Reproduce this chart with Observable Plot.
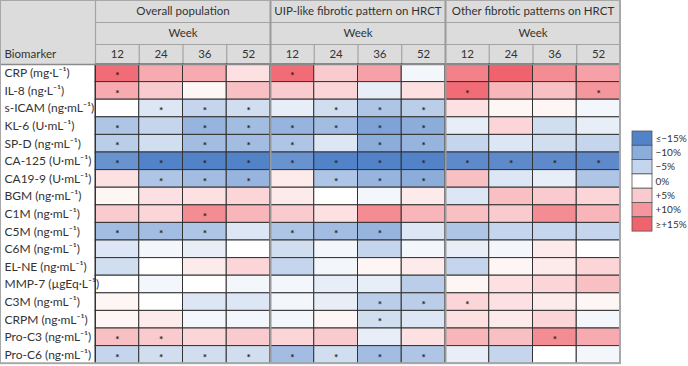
<!DOCTYPE html>
<html>
<head>
<meta charset="utf-8">
<script src="https://cdn.jsdelivr.net/npm/d3@7"></script>
<script src="https://cdn.jsdelivr.net/npm/@observablehq/plot@0.6"></script>
<style>
  html, body { margin: 0; padding: 0; background: #fff; }
  #chart svg { display: block; }
</style>
</head>
<body>
<div id="chart"></div>
<script>
// Percentage change from baseline per biomarker, by subgroup and week
const biomarkers = [
  "CRP (mg·L⁻¹)", "IL-8 (ng·L⁻¹)", "s-ICAM (ng·mL⁻¹)", "KL-6 (U·mL⁻¹)",
  "SP-D (ng·mL⁻¹)", "CA-125 (U·mL⁻¹)", "CA19-9 (U·mL⁻¹)", "BGM (ng·mL⁻¹)",
  "C1M (ng·mL⁻¹)", "C5M (ng·mL⁻¹)", "C6M (ng·mL⁻¹)", "EL-NE (ng·mL⁻¹)",
  "MMP-7 (µgEq·L⁻¹)", "C3M (ng·mL⁻¹)", "CRPM (ng·mL⁻¹)", "Pro-C3 (ng·mL⁻¹)",
  "Pro-C6 (ng·mL⁻¹)"
];
const groups = ["Overall population", "UIP-like fibrotic pattern on HRCT", "Other fibrotic patterns on HRCT"];
const weeks = [12, 24, 36, 52];

const overallChange = [
  [14, 8, 8, 3], [8, 5, 1, 6], [0, -3, -5, -4], [-7, -5, -9, -8],
  [-6, -4, -8, -8], [-13, -15, -15, -15], [3, -7, -8, -9], [1, 3, 3, 4],
  [5, 4, 11, 7], [-8, -8, -7, -3], [-3, -1, -2, 0], [-4, 0, 2, 4],
  [0, -1, 0, -1], [1, 0, -3, -3], [1, 2, -1, -1], [6, 5, 4, 5],
  [-5, -4, -4, -4]
];
const uipChange = [
  [14, 5, 9, -1], [5, 4, -2, 3], [-2, -4, -7, -6], [-9, -8, -11, -10],
  [-7, -3, -10, -9], [-13, -15, -15, -15], [2, -7, -9, -10], [2, 0, -1, 2],
  [5, 3, 11, 7], [-7, -8, -9, -3], [-4, -1, -5, -1], [-5, -1, 1, 2],
  [-1, -2, -2, -6], [-1, -2, -6, -6], [-1, 1, -4, -3], [4, 5, -2, 3],
  [-8, -4, -8, -7]
];
const otherChange = [
  [12, 15, 11, 9], [14, 7, 6, 10], [3, 1, 1, -1], [-2, 4, -4, -2],
  [-5, -3, -4, -5], [-14, -14, -14, -14], [6, -3, -2, -7], [-3, 6, 5, 4],
  [6, 5, 11, 7], [-7, -5, -5, -5], [-2, -1, 2, 0], [-5, 1, 2, 4],
  [1, 3, 4, 6], [4, 3, 2, 1], [3, 2, 4, -1], [7, 6, 11, 8],
  [-2, -5, 0, -1]
];

// 1 = statistically significant change (marked with an asterisk)
const overallSig = [
  [1,0,0,0], [1,0,0,0], [0,1,1,1], [1,0,1,1], [1,0,1,1], [1,1,1,1], [0,1,1,1], [0,0,0,0],
  [0,0,1,0], [1,1,1,0], [0,0,0,0], [0,0,0,0], [0,0,0,0], [0,0,0,0], [0,0,0,0], [1,1,0,0],
  [1,1,1,1]
];
const uipSig = [
  [1,0,0,0], [0,0,0,0], [0,1,1,1], [1,1,1,1], [1,0,1,1], [1,1,1,1], [0,1,1,1], [0,0,0,0],
  [0,0,0,0], [1,1,1,0], [0,0,0,0], [0,0,0,0], [0,0,0,0], [0,0,1,1], [0,0,1,0], [0,0,0,0],
  [1,1,1,1]
];
const otherSig = [
  [0,0,0,0], [1,0,0,1], [0,0,0,0], [0,0,0,0], [0,0,0,0], [1,1,1,1], [0,0,0,0], [0,0,0,0],
  [0,0,0,0], [0,0,0,0], [0,0,0,0], [0,0,0,0], [0,0,0,0], [1,0,0,0], [0,0,0,0], [0,0,1,0],
  [0,0,0,0]
];

const legendValues = [-15, -10, -5, 0, 5, 10, 15];
const legendLabels = ["≤−15%", "−10%", "−5%", "0%", "+5%", "+10%", "≥+15%"];

// ---- layout (x in column units, y in row units, y grows downward) ----
const W = 688, H = 366;
const colPx = 43.75, rowPx = 17.6;
const labelCol = 95 / colPx;                  // width of biomarker column
const headRows = [22 / rowPx, 22 / rowPx, 20 / rowPx];
const yTop = -(headRows[0] + headRows[1] + headRows[2]);
const yWeekTop = yTop + headRows[0];
const yNumTop = yWeekTop + headRows[1];
const nRows = biomarkers.length, nCols = groups.length * weeks.length;

const changes = [overallChange, uipChange, otherChange];
const sigs = [overallSig, uipSig, otherSig];
const cells = [];
groups.forEach((g, gi) => biomarkers.forEach((b, ri) => weeks.forEach((w, wi) => {
  const c = gi * weeks.length + wi;
  cells.push({group: g, biomarker: b, week: w, row: ri, col: c,
              value: changes[gi][ri][wi], sig: sigs[gi][ri][wi] === 1});
})));

const groupCells = groups.map((g, gi) => ({label: g, x1: gi * 4, x2: gi * 4 + 4}));
const weekCells = groups.flatMap((g, gi) => weeks.map((w, wi) => ({label: String(w), x1: gi * 4 + wi, x2: gi * 4 + wi + 1})));
const rowsData = biomarkers.map((b, i) => ({label: b, row: i}));

const legX1 = nCols + 12 / colPx, legX2 = nCols + 32 / colPx;
const legY0 = (131 - 64) / rowPx, legH = 14.3 / rowPx;
const legend = legendValues.map((v, i) => ({value: v, label: legendLabels[i], y1: legY0 + i * legH, y2: legY0 + (i + 1) * legH}));

const font = "Lato, 'Noto Sans', sans-serif";
const ink = "#333";
const headFill = "#dcdcdc";
const headLine = "#a3a3a3";

const chart = Plot.plot({
  width: W, height: H,
  marginTop: 0, marginBottom: 0, marginLeft: 0, marginRight: 0,
  x: {type: "linear", domain: [-labelCol, nCols + (W - 620) / colPx], axis: null},
  y: {type: "linear", domain: [yTop, yTop + H / rowPx], range: [0, H], axis: null},
  color: {type: "linear", domain: [-15, 0, 15], range: ["#5282c8", "#ffffff", "#f0626c"], interpolate: "rgb", clamp: true},
  style: {fontFamily: font, background: "#fff"},
  marks: [
    // header background
    Plot.rect([0], {x1: -labelCol, x2: nCols, y1: yTop, y2: 0, fill: headFill}),
    // header row separators
    Plot.ruleY([yWeekTop, yNumTop], {x1: 0, x2: nCols, stroke: headLine, strokeWidth: 1.2}),
    Plot.ruleX(d3.range(1, nCols).filter(c => c % 4 !== 0), {y1: yNumTop, y2: 0, stroke: headLine, strokeWidth: 1.2}),
    // heat cells
    Plot.rect(cells, {x1: "col", x2: d => d.col + 1, y1: "row", y2: d => d.row + 1, fill: "value", stroke: ink, strokeWidth: 1}),
    Plot.text(cells.filter(d => d.sig), {x: d => d.col + 0.5, y: d => d.row + 0.5, text: () => "*", fontSize: 10, fontWeight: "bold", dy: 2.5, fill: "#222"}),
    // group separators and column rule after labels
    Plot.ruleX([4, 8], {y1: yTop, y2: nRows, stroke: "#9a9a9a", strokeWidth: 2}),
    Plot.ruleX([0], {y1: yTop, y2: 0, stroke: headLine, strokeWidth: 1.2}),
    Plot.ruleX([0], {y1: 0, y2: nRows, stroke: ink, strokeWidth: 1}),
    Plot.ruleY([0], {x1: -labelCol, x2: nCols, stroke: "#8a8a8a", strokeWidth: 1.5}),
    // outer frame
    Plot.rect([0], {x1: -labelCol, x2: nCols, y1: yTop, y2: nRows, fill: "none", stroke: "#a8a8a8", strokeWidth: 2}),
    // header texts
    Plot.text(groupCells, {x: d => (d.x1 + d.x2) / 2, y: yTop + headRows[0] / 2, text: "label", fontSize: 11.5, fill: ink}),
    Plot.text(groupCells, {x: d => (d.x1 + d.x2) / 2, y: yWeekTop + headRows[1] / 2, text: () => "Week", fontSize: 11.5, fill: ink}),
    Plot.text(weekCells, {x: d => (d.x1 + d.x2) / 2, y: yNumTop + headRows[2] / 2, text: "label", fontSize: 11.5, fill: ink}),
    Plot.text(["Biomarker"], {x: -labelCol, y: yNumTop + headRows[2] / 2, text: d => d, textAnchor: "start", dx: 4, fontSize: 11.5, fill: ink}),
    // biomarker labels
    Plot.text(rowsData, {x: -labelCol, y: d => d.row + 0.5, text: "label", textAnchor: "start", dx: 4, fontSize: 12, fill: ink}),
    // colour key
    Plot.rect(legend, {x1: legX1, x2: legX2, y1: "y1", y2: "y2", fill: "value", stroke: "#555", strokeWidth: 0.8}),
    Plot.text(legend, {x: legX2, y: d => (d.y1 + d.y2) / 2, text: "label", textAnchor: "start", dx: 3, fontSize: 10, fill: ink})
  ]
});
document.getElementById("chart").appendChild(chart);
</script>
</body>
</html>
